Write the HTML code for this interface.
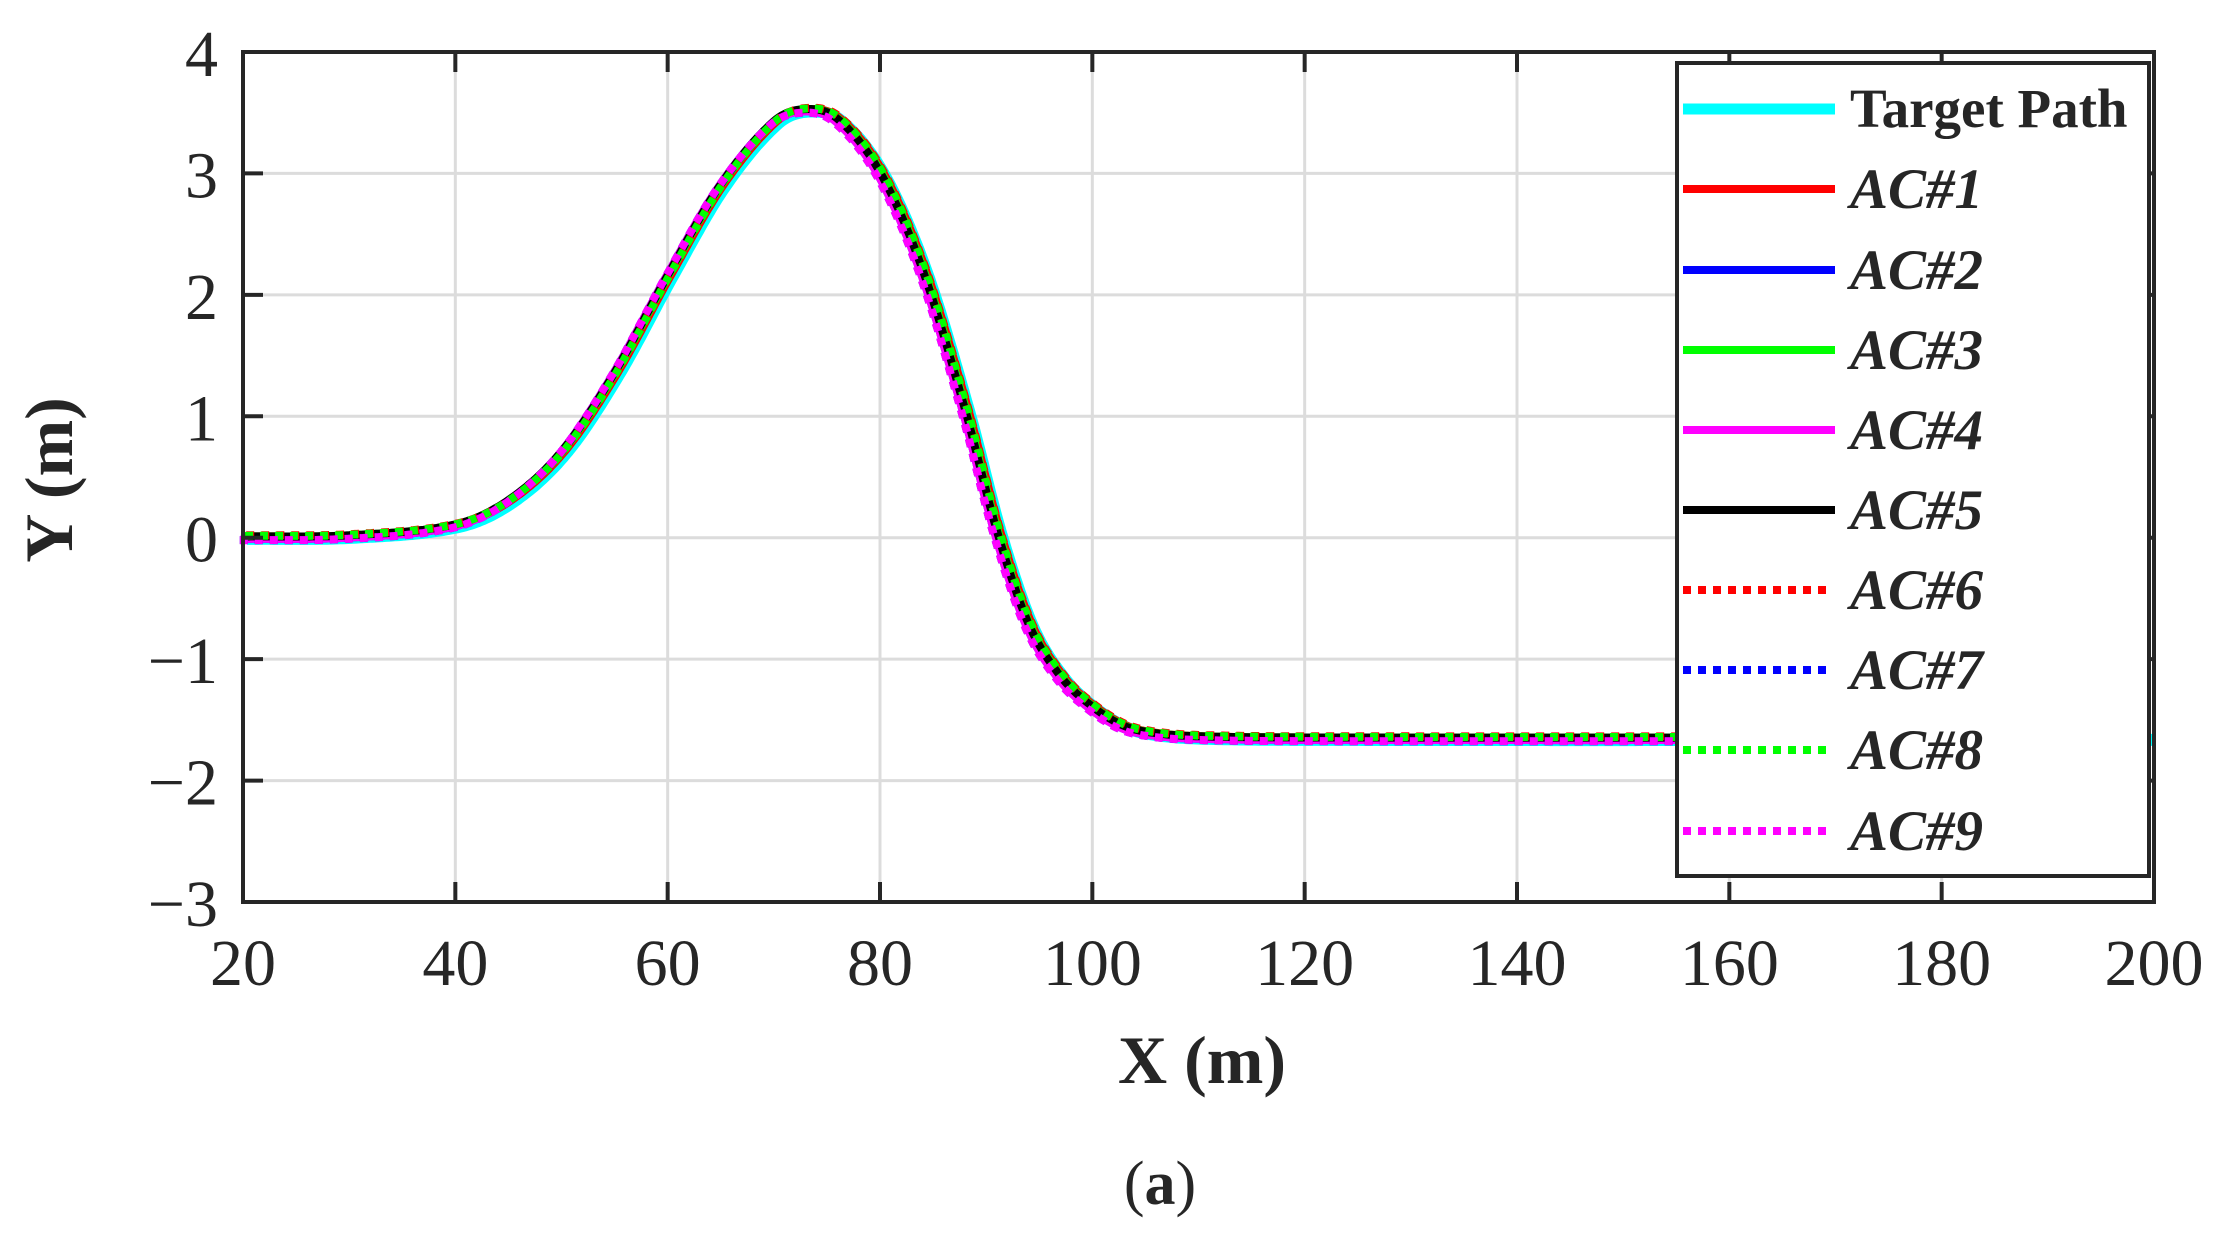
<!DOCTYPE html>
<html><head><meta charset="utf-8"><style>
html,body{margin:0;padding:0;background:#fff;}
svg{display:block;}
text{font-family:"Liberation Serif",serif;fill:#262626;}
</style></head><body>
<svg id="s" width="2233" height="1246" viewBox="0 0 2233 1246" xmlns="http://www.w3.org/2000/svg">
<rect width="2233" height="1246" fill="#fff"/>
<g id="grid" stroke="#dcdcdc" stroke-width="3"></g>
<g id="curves" fill="none" stroke-linejoin="round"></g>
<g id="axes"></g>
<g id="legend"></g>
<text x="1202" y="1083" font-size="68" font-weight="bold" text-anchor="middle">X (m)</text>
<text transform="translate(72,480) rotate(-90)" font-size="68" font-weight="bold" text-anchor="middle">Y (m)</text>
<text x="1160" y="1204" font-size="62" text-anchor="middle">(<tspan font-weight="bold">a</tspan>)</text>
</svg>
<script>
const NS="http://www.w3.org/2000/svg";
const L=243,R=2154,T=52,B=902;
const X=x=>L+(x-20)*(R-L)/180, Y=y=>T+(4-y)*(B-T)/7;
function el(p,t,a,txt){const e=document.createElementNS(NS,t);for(const k in a)e.setAttribute(k,a[k]);if(txt!==undefined)e.textContent=txt;p.appendChild(e);return e;}
const g=document.getElementById('grid'),ax=document.getElementById('axes');
for(let x=40;x<200;x+=20){el(g,'line',{x1:X(x),x2:X(x),y1:T,y2:B});}
for(let y=-2;y<4;y++){el(g,'line',{x1:L,x2:R,y1:Y(y),y2:Y(y)});}
el(ax,'rect',{x:L,y:T,width:R-L,height:B-T,fill:'none',stroke:'#262626','stroke-width':4});
for(let x=20;x<=200;x+=20){const px=X(x);
 el(ax,'line',{x1:px,x2:px,y1:B,y2:B-20,stroke:'#262626','stroke-width':4});
 el(ax,'line',{x1:px,x2:px,y1:T,y2:T+20,stroke:'#262626','stroke-width':4});
 el(ax,'text',{x:px,y:985,'font-size':66,'text-anchor':'middle'},String(x));}
for(let y=-3;y<=4;y++){const py=Y(y);
 el(ax,'line',{x1:L,x2:L+20,y1:py,y2:py,stroke:'#262626','stroke-width':4});
 el(ax,'line',{x1:R,x2:R-20,y1:py,y2:py,stroke:'#262626','stroke-width':4});
 el(ax,'text',{x:218,y:py+24,'font-size':66,'text-anchor':'end'},(y<0?'\u2212':'')+Math.abs(y));}
const P=[[20,0],[30,0.01],[40,0.1],[45,0.3],[50,0.7],[55,1.35],[60,2.15],[65,2.9],[70,3.42],[73,3.52],[76,3.44],[80,3.0],[84,2.2],[88,1.05],[91,0.05],[94,-0.72],[97,-1.15],[100,-1.4],[103,-1.56],[106,-1.62],[110,-1.645],[120,-1.655],[200,-1.655]];
function interp(x){for(let i=0;i<P.length-1;i++){if(x<=P[i+1][0]){const p0=P[Math.max(0,i-1)],p1=P[i],p2=P[i+1],p3=P[Math.min(P.length-1,i+2)];
 const t=(x-p1[0])/(p2[0]-p1[0]);const h=p2[0]-p1[0];
 const m1=(p2[1]-p0[1])/(p2[0]-p0[0]||1)*h, m2=(p3[1]-p1[1])/(p3[0]-p1[0]||1)*h;
 const t2=t*t,t3=t2*t;return (2*t3-3*t2+1)*p1[1]+(t3-2*t2+t)*m1+(-2*t3+3*t2)*p2[1]+(t3-t2)*m2;}}return P[P.length-1][1];}
function path(dx,dy,xmax){let d='';for(let x=20;x<=xmax;x+=0.25){d+=(d?'L':'M')+X(x+dx).toFixed(1)+','+(Y(interp(x)+dy)).toFixed(1);}return d;}
const c=document.getElementById('curves');
el(c,'path',{d:path(0.4,-0.01,199.6),stroke:'#00ffff','stroke-width':12});
const S=[['#ff0000',0.3,0.01,''],['#0000ff',-0.2,-0.01,''],['#00ff00',0.1,0.01,''],['#ff00ff',-0.2,-0.01,''],['#000000',0,0.01,''],
['#ff0000',0.3,0.02,'8 7'],['#0000ff',-0.3,-0.02,'8 7'],['#00ff00',0.2,0.015,'8 7'],['#ff00ff',-0.3,-0.02,'8 7']];
S.forEach(s=>el(c,'path',{d:path(s[1],s[2],168),stroke:s[0],'stroke-width':8,'stroke-dasharray':s[3]}));
const lg=document.getElementById('legend');
el(lg,'rect',{x:1677,y:63,width:472,height:813,fill:'#fff',stroke:'#262626','stroke-width':4});
const rows=[109,189,270,350,430,510,590,670,750,831];
el(lg,'line',{x1:1683,x2:1835,y1:rows[0],y2:rows[0],stroke:'#00ffff','stroke-width':11});
el(lg,'text',{x:1850,y:rows[0]+18,'font-size':55,'font-weight':'bold',fill:'#000'},'Target Path');
S.forEach((s,i)=>{const y=rows[i+1];
 el(lg,'line',{x1:1683,x2:s[3]?1828:1835,y1:y,y2:y,stroke:s[0],'stroke-width':8,'stroke-dasharray':s[3]?'8 7':''});
 el(lg,'text',{x:1850,y:y+19,'font-size':57,'font-weight':'bold','font-style':'italic',fill:'#000'},'AC#'+(i+1));});
</script>
</body></html>
